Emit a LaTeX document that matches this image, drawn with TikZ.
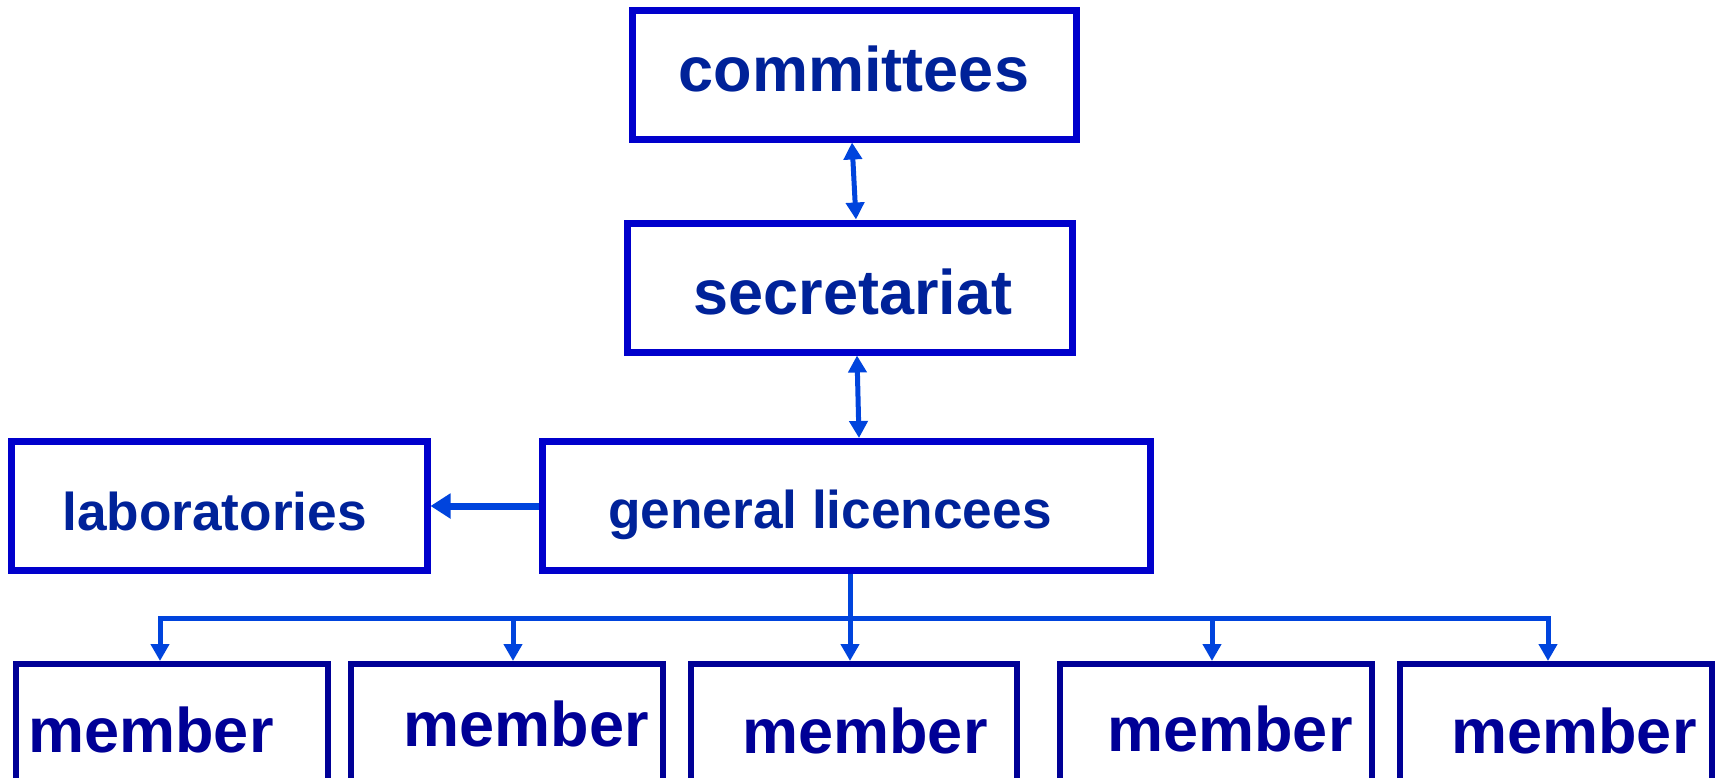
\documentclass[tikz,border=0pt]{standalone}
\usepackage{fontspec}
\setmainfont{Liberation Sans}
\usetikzlibrary{arrows.meta}
\definecolor{boxblue}{RGB}{0,0,204}
\definecolor{memblue}{RGB}{0,0,150}
\definecolor{txtblue}{RGB}{0,34,153}
\definecolor{linkblue}{RGB}{0,68,221}
\tikzset{
  box/.style={draw=boxblue, line width=3.5pt, minimum height=64.5pt, inner sep=0pt},
  memberbox/.style={draw=memblue, line width=3pt, minimum height=83pt, minimum width=156pt, inner sep=0pt},
  txt/.style={text=txtblue, anchor=base, inner sep=0pt, font=\fontsize{31.5}{36}\selectfont\bfseries},
  smalltxt/.style={txt, font=\fontsize{26.6}{30}\selectfont\bfseries},
  memtxt/.style={txt, text=memblue},
  link/.style={draw=linkblue, line width=2.5pt},
  >={Triangle[length=8.5pt,width=9pt]}
}
\begin{document}
\begin{tikzpicture}[x=0.5pt, y=-0.5pt]
	\useasboundingbox (0,0) rectangle (1720,777);
	\def\bus{618}

	% upper boxes
	\node[box, minimum width=222pt] (comm) at (854,74.5) {};
	\node[box, minimum width=222.5pt] (secr) at (849.5,287.5) {};
	\node[box, minimum width=304pt] (gen) at (846,506) {};
	\node[box, minimum width=208pt] (lab) at (219,506) {};

	\node[txt] (comm-t) at (854,91) {committees};
	\node[txt] (secr-t) at (853,314) {secretariat};
	\node[smalltxt] (gen-t) at (830,528) {general licencees};
	\node[smalltxt] (lab-t) at (214.5,530) {laboratories};

	% member row
	\node[memberbox] (m1) at (172,747) {};
	\node[memberbox] (m2) at (507,747) {};
	\node[memberbox, minimum width=163pt] (m3) at (854,747) {};
	\node[memberbox] (m4) at (1215.5,747) {};
	\node[memberbox] (m5) at (1555.5,747) {};

	\node[memtxt] (m1-t) at (151,752) {member};
	\node[memtxt] (m2-t) at (526.5,746) {member};
	\node[memtxt] (m3-t) at (865,753) {member};
	\node[memtxt] (m4-t) at (1230,751) {member};
	\node[memtxt] (m5-t) at (1574,753) {member};

	% links
	\draw[link, <->] ([xshift=-1pt]comm.south) -- ([xshift=3.25pt]secr.north);
	\draw[link, <->] ([xshift=3.75pt]secr.south) -- ([xshift=6.5pt]gen.north);
	\draw[link, line width=3.5pt, -{Triangle[length=10pt,width=12pt]}] (gen.west) -- (lab.east);

	\coordinate (fork) at (850,\bus);
	\draw[link, ->] ([xshift=2pt]gen.south) -- ([xshift=-2pt]m3.north);
	\draw[link, <->, line join=miter] ([xshift=-6pt]m1.north) |- (fork) -| ([xshift=-3.75pt]m5.north);
	\draw[link, ->] ([xshift=3pt]m2.north |- fork) -- ([xshift=3pt]m2.north);
	\draw[link, ->] ([xshift=-1.75pt]m4.north |- fork) -- ([xshift=-1.75pt]m4.north);
\end{tikzpicture}
\end{document}
